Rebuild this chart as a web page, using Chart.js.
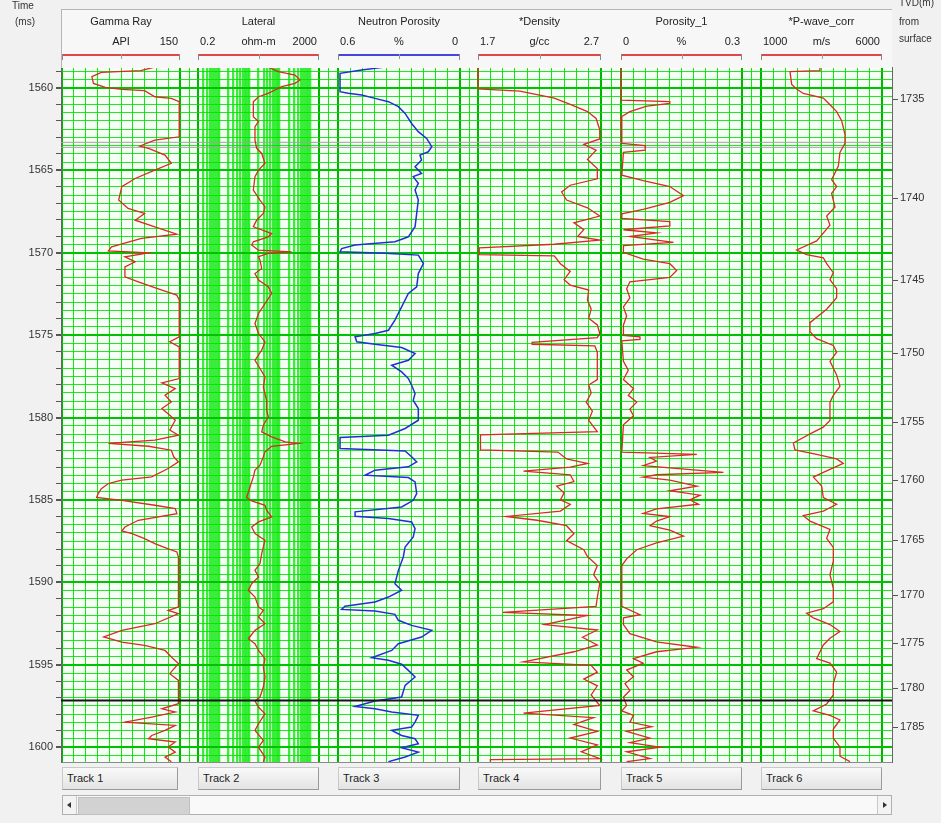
<!DOCTYPE html>
<html><head><meta charset="utf-8">
<script src="https://cdn.jsdelivr.net/npm/chart.js@4.4.0/dist/chart.umd.min.js"></script>
<style>
html,body{margin:0;padding:0;background:#f1f1f1;width:941px;height:823px;overflow:hidden;font-family:"Liberation Sans",Arial,sans-serif;}
#c{position:absolute;left:0;top:0;}
.t{position:absolute;white-space:nowrap;color:#222;font-size:11px;line-height:13px;}
</style></head><body>
<canvas id="c" width="941" height="823"></canvas>
<script>
// ---------------- DATA ----------------
const trackTitles = ['Gamma Ray','Lateral','Neutron Porosity','*Density','Porosity_1','*P-wave_corr'];
const trackUnits  = ['API','ohm-m','%','g/cc','%','m/s'];
const leftLabels  = ['','0.2','0.6','1.7','0','1000'];
const rightLabels = ['150','2000','0','2.7','0.3','6000'];
const rangeLeft   = [0,0.2,0.6,1.7,0,1000];
const rangeRight  = [150,2000,0,2.7,0.3,6000];
const trackNames  = ['Track 1','Track 2','Track 3','Track 4','Track 5','Track 6'];

const timeMin = 1558.725, timeMax = 1600.9;
const tvdLabels = ['1735','1740','1745','1750','1755','1760','1765','1770','1775','1780','1785'];
const tvdTimes  = [1560.67,1566.68,1571.66,1576.09,1580.28,1583.80,1587.44,1590.78,1593.70,1596.43,1598.80];
const grayMarkerTimes = [1563.3,1563.6];
const blackMarkerTime = 1597.17;

const grTime = [1558.73,1558.95,1559.05,1559.31,1559.72,1559.96,1560.08,1560.16,1560.53,1560.63,1560.83,1562.96,1563.16,1563.52,1563.66,1564.07,1564.57,1564.98,1565.49,1565.99,1566.80,1567.31,1567.61,1568.02,1568.42,1568.87,1569.13,1569.64,1569.88,1570.00,1570.24,1570.55,1570.85,1571.46,1571.76,1572.27,1572.57,1572.87,1575.10,1575.40,1575.71,1577.63,1577.89,1578.24,1578.64,1579.05,1579.45,1579.86,1580.16,1580.76,1581.07,1581.37,1581.57,1581.74,1581.98,1582.38,1582.69,1583.09,1583.60,1583.80,1584.00,1584.31,1584.61,1584.85,1585.02,1585.32,1585.52,1585.83,1586.23,1586.64,1586.88,1587.04,1587.34,1587.65,1587.89,1588.15,1588.46,1591.49,1591.70,1591.90,1592.51,1592.91,1593.31,1593.62,1593.82,1594.13,1594.53,1594.93,1595.54,1595.95,1597.36,1597.67,1597.87,1598.17,1598.48,1598.68,1598.98,1599.29,1599.49,1599.69,1599.99,1600.30,1600.60,1600.88];
const grVal  = [118,100,50,38,40,55,76,105,118,139,149,149,118,99,110,131,139,118,93,76,72,84,105,93,118,146,101,63,59,110,80,93,80,80,97,127,146,149,149,137,149,149,127,144,131,139,127,137,144,137,148,118,59,110,139,142,148,135,114,76,59,50,46,44,76,118,144,146,97,80,76,89,105,118,131,146,148,148,135,148,118,76,53,76,105,131,139,148,137,148,148,127,144,114,80,144,131,114,110,144,135,144,131,139];

const latTime = [1558.73,1559.01,1559.21,1559.51,1559.72,1559.92,1560.12,1560.32,1560.53,1560.83,1561.74,1562.04,1562.35,1563.16,1563.66,1563.97,1564.57,1564.98,1565.38,1566.19,1566.80,1567.21,1567.61,1568.02,1568.42,1568.83,1569.03,1569.33,1569.53,1569.84,1569.94,1570.04,1570.24,1570.45,1570.95,1571.26,1571.66,1572.06,1572.47,1573.08,1573.68,1574.29,1574.90,1575.40,1575.91,1576.52,1577.02,1577.53,1578.14,1578.95,1579.55,1579.95,1580.46,1580.87,1581.17,1581.47,1581.57,1581.74,1582.08,1582.38,1582.89,1583.19,1583.60,1584.21,1584.85,1585.06,1585.32,1585.62,1586.03,1586.33,1586.64,1587.04,1587.44,1587.85,1588.25,1588.86,1589.27,1589.67,1590.08,1590.48,1590.89,1591.49,1591.70,1592.10,1592.51,1592.91,1593.42,1593.72,1594.13,1594.63,1595.14,1595.74,1596.35,1596.96,1597.20,1597.57,1597.97,1598.58,1598.98,1599.59,1600.00,1600.60,1600.88];
const latVal  = [42,91,322,471,322,117,70,42,20,13.5,13.5,20,15.3,15.3,17.4,25.5,32.8,20,15.3,13.5,22.4,32.8,28.9,17.4,13.5,54.5,42,13.5,11.9,20,250,42,20,22.4,25.5,15.3,20,42,54.5,32.8,20,15.3,20,32.8,25.5,15.3,22.4,32.8,28.9,37,37,42,28.9,25.5,54.5,153,415,54.5,32.8,28.9,22.4,15.3,13.5,10.5,8.1,11.9,32.8,37,54.5,20,11.9,15.3,32.8,28.9,25.5,22.4,15.3,20,11.9,9.2,15.3,20,28.9,20,32.8,15.3,9.2,15.3,20,32.8,28.9,32.8,28.9,22.4,15.3,20,32.8,20,15.3,28.9,20,32.8,28.9];

const nphiTime = [1558.73,1558.91,1559.11,1560.22,1560.32,1560.43,1560.63,1560.83,1561.13,1561.54,1562.15,1562.65,1563.06,1563.56,1563.87,1564.07,1564.37,1564.78,1565.18,1565.38,1565.79,1566.19,1566.80,1567.61,1568.42,1569.03,1569.33,1569.53,1569.74,1569.94,1570.02,1570.14,1570.65,1571.26,1572.06,1572.47,1573.28,1574.09,1574.70,1574.90,1575.10,1575.40,1575.55,1575.75,1576.11,1576.52,1576.82,1577.23,1577.63,1578.04,1578.54,1578.95,1579.45,1580.16,1580.66,1581.07,1581.21,1581.88,1582.02,1582.38,1582.69,1582.99,1583.19,1583.50,1583.64,1583.90,1584.61,1585.02,1585.42,1585.72,1585.99,1586.13,1586.33,1586.74,1587.24,1587.85,1588.46,1589.27,1590.08,1590.48,1590.89,1591.19,1591.45,1591.64,1591.74,1591.94,1592.30,1592.61,1592.91,1593.32,1593.72,1594.13,1594.57,1594.73,1594.97,1595.34,1595.74,1596.25,1596.96,1597.20,1597.53,1597.67,1597.87,1598.07,1598.48,1598.78,1598.98,1599.29,1599.49,1599.79,1600.04,1600.30,1600.60,1600.88];
const nphiVal  = [0.369,0.484,0.59,0.59,0.55,0.484,0.418,0.352,0.303,0.27,0.238,0.205,0.164,0.139,0.156,0.197,0.189,0.221,0.189,0.23,0.205,0.221,0.205,0.213,0.221,0.254,0.32,0.516,0.582,0.59,0.369,0.205,0.18,0.205,0.213,0.254,0.287,0.32,0.352,0.418,0.516,0.508,0.418,0.287,0.221,0.254,0.336,0.287,0.254,0.238,0.221,0.23,0.205,0.205,0.27,0.352,0.59,0.59,0.27,0.238,0.213,0.254,0.418,0.467,0.254,0.221,0.213,0.23,0.287,0.516,0.516,0.352,0.238,0.221,0.23,0.27,0.279,0.303,0.32,0.287,0.352,0.418,0.566,0.582,0.418,0.32,0.303,0.238,0.139,0.189,0.303,0.336,0.434,0.352,0.287,0.254,0.221,0.27,0.287,0.418,0.516,0.418,0.336,0.205,0.221,0.238,0.336,0.287,0.221,0.205,0.287,0.205,0.27,0.352];

const rhoTime = [1558.73,1560.06,1560.19,1560.61,1561.02,1561.43,1561.85,1562.53,1563.09,1563.42,1563.77,1564.33,1564.88,1565.51,1565.90,1566.31,1566.80,1567.27,1567.77,1568.18,1568.60,1569.01,1569.23,1569.48,1569.70,1570.11,1570.19,1570.66,1571.13,1571.63,1571.96,1572.26,1572.87,1573.42,1573.97,1574.38,1574.88,1575.15,1575.43,1575.55,1575.65,1576.03,1577.69,1578.02,1578.51,1579.06,1579.61,1580.17,1580.85,1581.05,1581.96,1582.09,1582.51,1582.78,1583.00,1583.25,1583.47,1583.88,1584.16,1584.57,1584.99,1585.26,1585.67,1586.00,1586.23,1586.56,1587.05,1587.47,1588.02,1588.43,1588.98,1589.53,1590.08,1590.91,1591.46,1591.82,1592.01,1592.23,1592.56,1592.89,1593.33,1593.80,1594.21,1594.82,1595.04,1595.45,1595.87,1596.28,1596.83,1597.47,1597.93,1598.21,1598.62,1599.04,1599.45,1599.86,1600.28,1600.69,1600.75,1600.88];
const rhoVal  = [1.70,1.70,2.04,2.32,2.46,2.59,2.66,2.69,2.69,2.56,2.66,2.59,2.67,2.67,2.45,2.38,2.42,2.59,2.69,2.48,2.56,2.51,2.69,2.32,1.71,1.71,2.32,2.37,2.45,2.40,2.45,2.60,2.59,2.62,2.60,2.67,2.69,2.67,2.14,2.14,2.65,2.67,2.67,2.60,2.62,2.58,2.63,2.60,2.67,1.72,1.72,2.35,2.42,2.59,2.45,2.07,2.45,2.48,2.34,2.40,2.37,2.45,2.37,1.93,2.18,2.42,2.48,2.42,2.56,2.59,2.67,2.64,2.69,2.67,2.66,1.90,2.59,2.45,2.24,2.67,2.55,2.67,2.48,2.07,2.62,2.67,2.56,2.67,2.62,2.69,2.07,2.64,2.48,2.67,2.45,2.67,2.54,2.69,1.80,1.80];

const porTime = [1558.73,1560.74,1560.83,1560.94,1561.10,1561.43,1561.76,1563.36,1563.50,1563.77,1563.91,1565.29,1565.62,1565.98,1566.53,1566.94,1567.36,1567.63,1567.91,1568.10,1568.37,1568.60,1568.79,1569.01,1569.37,1569.56,1569.97,1570.39,1570.66,1571.07,1571.49,1571.76,1572.18,1572.73,1573.28,1573.83,1574.38,1575.01,1575.10,1575.26,1575.34,1576.58,1577.13,1577.69,1578.24,1578.65,1579.06,1579.48,1579.89,1580.44,1582.09,1582.23,1582.42,1582.64,1582.92,1583.33,1583.47,1583.61,1583.80,1584.16,1584.44,1584.71,1584.99,1585.26,1585.54,1585.81,1586.01,1586.28,1586.56,1586.83,1587.19,1587.60,1588.02,1588.57,1588.98,1591.46,1591.96,1592.15,1592.56,1593.11,1593.61,1593.94,1594.21,1594.63,1594.90,1595.32,1595.73,1596.14,1596.56,1596.97,1597.47,1597.80,1598.07,1598.48,1598.76,1599.04,1599.45,1599.72,1600.00,1600.28,1600.69,1600.88];
const porVal  = [0,0,0.121,0.121,0.064,0.022,0,0.002,0.060,0.060,0.006,0.002,0.055,0.121,0.155,0.121,0.055,0.002,0.002,0.121,0.121,0.006,0.088,0.022,0.13,0.006,0.006,0.055,0.121,0.138,0.121,0.022,0.014,0.022,0.006,0.014,0.006,0.006,0.047,0.047,0.002,0.006,0.018,0.006,0.031,0.018,0.039,0.022,0.031,0.006,0.002,0.188,0.072,0.088,0.055,0.254,0.088,0.055,0.121,0.188,0.121,0.196,0.171,0.192,0.088,0.055,0.121,0.088,0.072,0.121,0.155,0.088,0.039,0.014,0.002,0.002,0.047,0.006,0.006,0.022,0.088,0.188,0.088,0.031,0.055,0.014,0.031,0.01,0.022,0.006,0.014,0.002,0.031,0.022,0.076,0.014,0.072,0.022,0.097,0.014,0.072,0.014];

const vpTime = [1558.73,1558.95,1559.00,1559.78,1560.06,1560.33,1560.61,1561.02,1561.43,1561.98,1562.81,1563.36,1563.91,1564.74,1565.56,1565.98,1566.39,1567.22,1567.77,1568.32,1569.28,1569.83,1570.11,1570.30,1570.66,1571.21,1571.63,1572.18,1572.73,1573.42,1574.24,1574.79,1575.21,1575.62,1576.03,1576.58,1577.41,1578.10,1578.65,1579.06,1580.17,1580.58,1580.99,1581.54,1581.96,1582.23,1582.51,1582.78,1583.33,1583.61,1584.16,1584.85,1585.26,1585.67,1585.95,1586.28,1586.78,1587.33,1587.88,1588.71,1589.53,1590.36,1591.18,1591.60,1591.87,1592.15,1592.56,1592.98,1593.39,1593.80,1594.63,1594.90,1595.45,1596.14,1596.83,1597.38,1597.80,1598.07,1598.35,1598.90,1599.45,1600.00,1600.55,1600.88];
const vpVal  = [3437,3437,2198,2267,2473,2749,3575,3850,4126,4332,4470,4470,4263,4195,3919,4126,3919,4057,3713,3850,3300,2473,2886,3575,3713,3988,3850,4126,4126,3713,3024,3024,3300,3988,4126,3850,4126,4263,3988,3850,3850,3575,3024,2336,2405,3300,4126,4401,3575,3162,3506,3575,4126,3575,2749,3024,3850,3713,3988,3988,3850,3988,3988,3575,2886,3162,3850,4263,3850,3575,3300,3850,4126,3988,3988,3713,3162,3850,4263,3988,3988,4263,4263,4677];

// ---------------- LAYOUT (pixels, not data) ----------------
const PL = 61, PR = 892, PT = 67, PB = 762, W = 941, H = 823;
const trackPx = [[62,180],[198,319],[338,460],[478,601],[621,742],[761,882]];
const logTrack = [false,true,false,false,false,false];
const curveColors = ['rgb(218,40,36)','rgb(218,40,36)','rgb(35,45,215)','rgb(218,40,36)','rgb(218,40,36)','rgb(218,40,36)'];
const barColors = ['rgb(225,70,70)','rgb(225,70,70)','rgb(70,70,220)','rgb(225,70,70)','rgb(225,70,70)','rgb(225,70,70)'];

const seriesT = [grTime, latTime, nphiTime, rhoTime, porTime, vpTime];
const seriesV = [grVal, latVal, nphiVal, rhoVal, porVal, vpVal];

// ---------------- HTML header / footer ----------------
function addDiv(css, text){ const d=document.createElement('div'); d.style.cssText=css; if(text!=null) d.textContent=text; document.body.appendChild(d); return d; }
addDiv('position:absolute;left:61px;top:9px;width:830px;height:58px;background:#f7f7f7;border-top:1px solid #b5b5b5;border-left:1px solid #b5b5b5;');
addDiv('position:absolute;left:12px;top:0px;font-size:10px;color:#333;', 'Time');
addDiv('position:absolute;left:15px;top:16px;font-size:10px;color:#333;', '(ms)');
addDiv('position:absolute;left:899px;top:-3px;font-size:10px;color:#333;', 'TVD(m)');
addDiv('position:absolute;left:899px;top:16px;font-size:10px;color:#333;', 'from');
addDiv('position:absolute;left:899px;top:33px;font-size:10px;color:#333;', 'surface');
trackPx.forEach(([L,R],i)=>{
  const w=R-L;
  const c=document.createElement('div'); c.className='t';
  c.style.cssText=`left:${L}px;top:15px;width:${w}px;text-align:center;`; c.textContent=trackTitles[i]; document.body.appendChild(c);
  addDiv(`position:absolute;left:${L}px;top:35px;width:${w}px;text-align:center;font-size:11px;color:#222;`, trackUnits[i]);
  if(leftLabels[i]) addDiv(`position:absolute;left:${L+2}px;top:35px;font-size:11px;color:#222;`, leftLabels[i]);
  addDiv(`position:absolute;left:${L}px;top:35px;width:${w-2}px;text-align:right;font-size:11px;color:#222;`, rightLabels[i]);
  addDiv(`position:absolute;left:${L}px;top:54px;width:${w}px;height:2px;background:${barColors[i]};`);
  addDiv(`position:absolute;left:${L}px;top:54px;width:1px;height:6px;background:#888;`);
  addDiv(`position:absolute;left:${R-1}px;top:54px;width:1px;height:6px;background:#888;`);
  addDiv(`position:absolute;left:${Math.round((L+R)/2)}px;top:54px;width:1px;height:5px;background:#999;`);
  const bw = (i===0)? (R-L-2) : (R-L);
  addDiv(`position:absolute;left:${L}px;top:767px;width:${bw}px;height:23px;box-sizing:border-box;background:linear-gradient(#f9f9f9,#e3e3e3);border:1px solid #c9c9c9;border-right-color:#9a9a9a;border-bottom-color:#9a9a9a;font-size:11px;line-height:21px;padding-left:4px;color:#222;`, trackNames[i]);
});
// scrollbar
addDiv('position:absolute;left:62px;top:795px;width:830px;height:20px;box-sizing:border-box;background:#f9f9f9;border:1px solid #b0b0b0;');
addDiv('position:absolute;left:63px;top:796px;width:14px;height:18px;box-sizing:border-box;background:#f3f3f3;border-right:1px solid #c8c8c8;');
addDiv('position:absolute;left:67px;top:802px;width:0;height:0;border-top:3px solid transparent;border-bottom:3px solid transparent;border-right:4px solid #333;');
addDiv('position:absolute;left:78px;top:797px;width:110px;height:16px;background:#d2d2d2;border:1px solid #c0c0c0;');
addDiv('position:absolute;left:877px;top:796px;width:14px;height:18px;box-sizing:border-box;background:#f3f3f3;border-left:1px solid #c8c8c8;');
addDiv('position:absolute;left:883px;top:802px;width:0;height:0;border-top:3px solid transparent;border-bottom:3px solid transparent;border-left:4px solid #333;');

// ---------------- CHART ----------------
function trackAxis(i){
  const [L,R]=trackPx[i]; const a=rangeLeft[i], b=rangeRight[i]; const lg=logTrack[i];
  const f = lg ? Math.log10 : (v=>v), inv = lg ? (v=>Math.pow(10,v)) : (v=>v);
  const fa=f(a), fb=f(b), s=(fb-fa)/(R-L);
  const leftV=fa-(L-PL)*s, rightV=fb+(PR-R)*s;
  const gv=[];
  if(lg){
    gv.push(a);
    for(let e=-1;e<=3;e++) for(let m=1;m<=9;m++){ const v=m*Math.pow(10,e); if(v>a*1.0001 && v<b*0.9999) gv.push(v); }
    gv.push(b);
  } else {
    const lo=Math.min(a,b), hi=Math.max(a,b);
    for(let k=0;k<=10;k++) gv.push(lo+(hi-lo)*k/10);
  }
  const last=gv.length-1;
  return {
    type: lg?'logarithmic':'linear', axis:'x', position:'bottom',
    min: inv(Math.min(leftV,rightV)), max: inv(Math.max(leftV,rightV)), reverse: leftV>rightV,
    ticks:{display:false}, border:{display:false},
    grid:{drawTicks:false,
      color: c=> (c.index===0||c.index===last) ? 'rgb(0,180,0)' : (lg ? 'rgba(40,235,40,0.9)' : 'rgba(0,225,0,0.9)'),
      lineWidth: c=> (c.index===0||c.index===last) ? 2 : (lg ? 2.3 : 1)},
    afterBuildTicks: sc=>{ sc.ticks = gv.map(v=>({value:v})); },
    afterFit: sc=>{ sc.height=0; }
  };
}
const scales = {};
for(let i=0;i<6;i++) scales['x'+i]=trackAxis(i);
// gap lines / marker axis (fraction of plot width)
const gapFr=[]; for(let i=0;i<5;i++) gapFr.push(((trackPx[i][1]+trackPx[i+1][0])/2-PL)/(PR-PL));
scales.xg = {type:'linear', axis:'x', position:'bottom', min:0, max:1,
  ticks:{display:false}, border:{display:true,color:'#8a8a8a',width:1},
  grid:{drawTicks:false,color:'rgba(0,225,0,0.9)',lineWidth:1},
  afterBuildTicks: sc=>{ sc.ticks=gapFr.map(v=>({value:v})); }, afterFit: sc=>{sc.height=0;}};
scales.y = {type:'linear', position:'left', reverse:true, min:timeMin, max:timeMax,
  afterBuildTicks: sc=>{ const t=[]; for(let v=1559; v<=1600.5; v+=0.5) t.push({value:v}); sc.ticks=t; },
  ticks:{autoSkip:false, color:'#333', font:{family:'Liberation Sans', size:11}, padding:3,
    callback:(v)=> (Math.abs(v%5)<1e-9 ? String(v) : '')},
  grid:{color:c=> (c.tick && Math.abs(c.tick.value%5)<1e-9) ? 'rgb(0,195,0)' : 'rgba(0,225,0,0.85)',
        lineWidth:c=> (c.tick && Math.abs(c.tick.value%5)<1e-9) ? 2 : 1,
        tickColor:c=> (c.tick && Math.abs(c.tick.value%1)<1e-9) ? '#555' : 'rgba(0,0,0,0)', tickLength:5},
  border:{display:true,color:'#666',width:1},
  afterFit: sc=>{ sc.width = PL; }};
scales.y2 = {type:'linear', position:'right', reverse:true, min:timeMin, max:timeMax,
  afterBuildTicks: sc=>{ sc.ticks = tvdTimes.map(v=>({value:v})); },
  ticks:{autoSkip:false, color:'#333', font:{family:'Liberation Sans', size:11}, padding:2,
    callback:(v,i)=> tvdLabels[i]},
  grid:{drawOnChartArea:false, tickColor:'#555', tickLength:6},
  border:{display:true,color:'#666',width:1},
  afterFit: sc=>{ sc.width = W-PR; }};

const datasets = [];
for(let i=0;i<6;i++){
  const n=Math.min(seriesT[i].length, seriesV[i].length);
  const d=[]; for(let k=0;k<n;k++) d.push({x:seriesV[i][k], y:seriesT[i][k]});
  datasets.push({label:trackTitles[i], data:d, xAxisID:'x'+i, yAxisID:'y', borderColor:curveColors[i],
    borderWidth: i===2?1.5:1.3, pointRadius:0, tension:0, order:1});
}
grayMarkerTimes.forEach(t=> datasets.push({label:'marker', data:[{x:0,y:t},{x:1,y:t}], xAxisID:'xg', yAxisID:'y',
  borderColor:'rgba(160,160,160,0.8)', borderWidth:1.2, pointRadius:0, order:2}));
datasets.push({label:'marker', data:[{x:0,y:blackMarkerTime},{x:1,y:blackMarkerTime}], xAxisID:'xg', yAxisID:'y',
  borderColor:'#151515', borderWidth:2, pointRadius:0, order:0});

const bgPlugin = {id:'bg',
  beforeDraw(chart){ const a=chart.chartArea, x=chart.ctx; x.save(); x.fillStyle='rgb(246,255,246)'; x.fillRect(a.left,a.top,a.right-a.left,a.bottom-a.top); x.restore(); },
  afterDraw(chart){ const a=chart.chartArea, x=chart.ctx; x.save(); x.strokeStyle='#8a8a8a'; x.lineWidth=1; x.beginPath(); x.moveTo(a.left,a.top+0.5); x.lineTo(a.right,a.top+0.5); x.stroke(); x.restore(); }
};

new Chart(document.getElementById('c'), {
  type:'line',
  data:{datasets},
  options:{responsive:false, animation:false, devicePixelRatio:1,
    layout:{padding:{top:PT, bottom:H-PB, left:0, right:0}},
    plugins:{legend:{display:false}, tooltip:{enabled:false}},
    scales},
  plugins:[bgPlugin]
});
</script>
</body></html>
